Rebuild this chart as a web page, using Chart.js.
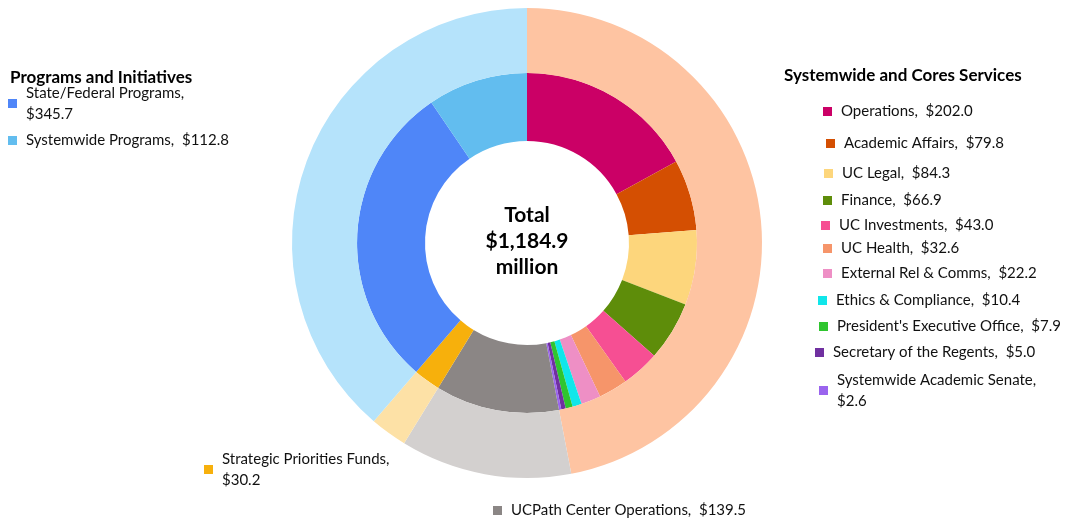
<!DOCTYPE html>
<html>
<head>
  <title>UCOP Budget</title>
  <script src="https://cdn.jsdelivr.net/npm/chart.js"></script>
  <style>
    html, body { margin: 0; padding: 0; background: #fff; }
    #wrap { width: 1067px; height: 520px; position: relative; }
  </style>
</head>
<body>
  <div id="wrap"><canvas id="myChart" width="1067" height="520"></canvas></div>
  <script>
    // inner ring: units
    const unitNames = ['Operations', 'Academic Affairs', 'UC Legal', 'Finance', 'UC Investments', 'UC Health',
      'External Rel & Comms', 'Ethics & Compliance', "President's Executive Office", 'Secretary of the Regents',
      'Systemwide Academic Senate', 'UCPath Center Operations', 'Strategic Priorities Funds',
      'State/Federal Programs', 'Systemwide Programs'];
    const unitValues = [202.0, 79.8, 84.3, 66.9, 43.0, 32.6, 22.2, 10.4, 7.9, 5.0, 2.6, 139.5, 30.2, 345.7, 112.8];
    const unitColors = ['#cb0066', '#d44f02', '#fdd67c', '#5e8d0a', '#f64f93', '#f6956a', '#ee8fc5', '#10e6ea',
      '#2fc52f', '#7030a0', '#9a64ee', '#8b8685', '#f7b00c', '#4f86f8', '#62bdef'];

    // outer ring: groups
    const groupNames = ['Systemwide and Cores Services', 'UCPath Center Operations', 'Strategic Priorities Funds', 'Programs and Initiatives'];
    const groupValues = [556.7, 139.5, 30.2, 458.5];
    const groupColors = ['#fec4a2', '#d3d0cf', '#fde1a6', '#b5e3fb'];

    const totalText = ['Total', '$1,184.9', 'million'];

    // where each unit's label goes: [square x, line y, split into two lines]
    const labelSpots = [
      [823, 111, false], [826, 143, false], [824, 173, false], [823, 200, false], [821, 225, false],
      [823, 248, false], [823, 273, false], [818, 300, false], [819, 326, false], [815, 352, false],
      [819, 380, true], [493, 510, false], [204, 459, true], [8, 93, true], [8, 140, false]
    ];

    const labelsPlugin = {
      id: 'labels',
      afterDraw(chart) {
        const ctx = chart.ctx;
        ctx.save();
        ctx.textBaseline = 'middle';
        ctx.fillStyle = '#000';
        ctx.font = 'bold 17px Lato';
        ctx.fillText('Programs and Initiatives', 10, 78);
        ctx.fillText('Systemwide and Cores Services', 784, 76);

        ctx.font = '15px Lato';
        unitNames.forEach((name, i) => {
          const [x, y, split] = labelSpots[i];
          const val = '$' + unitValues[i].toFixed(1);
          ctx.fillStyle = unitColors[i];
          const sqY = split ? y + 10 : y;
          ctx.fillRect(x, sqY - 4, 9, 9);
          ctx.fillStyle = '#111';
          if (split) {
            ctx.fillText(name + ',', x + 18, y);
            ctx.fillText(val, x + 18, y + 21);
          } else {
            ctx.fillText(name + ',  ' + val, x + 18, y);
          }
        });

        const c = chart.getDatasetMeta(0).data[0];
        ctx.textAlign = 'center';
        ctx.fillStyle = '#000';
        ctx.font = 'bold 21px Lato';
        totalText.forEach((t, i) => ctx.fillText(t, c.x, c.y - 28 + i * 26));
        ctx.restore();
      }
    };

    const ctx = document.getElementById('myChart').getContext('2d');
    new Chart(ctx, {
      type: 'doughnut',
      data: {
        labels: unitNames,
        datasets: [
          { data: groupValues, backgroundColor: groupColors, borderWidth: 0, weight: 65 },
          { data: unitValues, backgroundColor: unitColors, borderWidth: 0, weight: 68 }
        ]
      },
      options: {
        responsive: false,
        animation: false,
        cutout: '43.4%',
        layout: { padding: { left: 292, right: 305, top: 8, bottom: 42 } },
        plugins: { legend: { display: false }, tooltip: { enabled: false } }
      },
      plugins: [labelsPlugin]
    });
  </script>
</body>
</html>
